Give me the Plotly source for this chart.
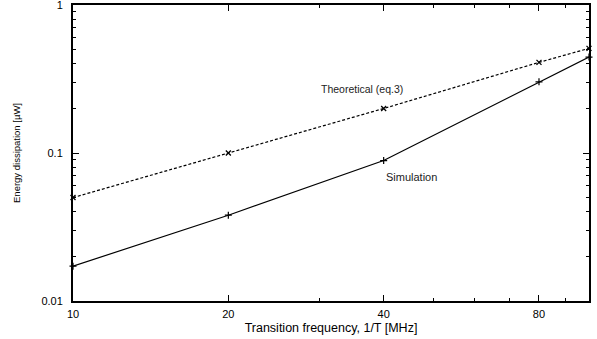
import math
import plotly.graph_objects as go

freq = [10, 20, 40, 80, 100]
theoretical = [0.05, 0.10, 0.20, 0.41, 0.51]
simulation = [0.0172, 0.038, 0.089, 0.303, 0.445]

x_ticks = [10, 20, 40, 80]
x_tick_labels = ["10", "20", "40", "80"]
x_minor = [30, 50, 60, 70, 90]
y_ticks = [0.01, 0.1, 1]
y_tick_labels = ["0.01", "0.1", "1"]
y_minor = [v * d for d in (0.01, 0.1) for v in range(2, 10)]

FONT = "Liberation Sans, Arial, sans-serif"

fig = go.Figure()
fig.add_trace(go.Scatter(
    x=freq, y=theoretical, mode="lines+markers",
    line=dict(color="black", width=1.2, dash="3px,2px"),
    marker=dict(symbol="x-thin", size=5, line=dict(color="black", width=1.3)),
    showlegend=False, cliponaxis=False))
fig.add_trace(go.Scatter(
    x=freq, y=simulation, mode="lines+markers",
    line=dict(color="black", width=1.2),
    marker=dict(symbol="cross-thin", size=5, line=dict(color="black", width=1.2)),
    showlegend=False, cliponaxis=False))

axis_common = dict(
    showgrid=False, zeroline=False, showline=True, linecolor="black", linewidth=2,
    mirror="ticks", ticks="inside", ticklen=6, tickwidth=1.3, tickcolor="black",
    tickfont=dict(family=FONT, size=11, color="black"),
    ticklabeloverflow="allow",
)

fig.update_xaxes(
    type="log", range=[1, 2], tickmode="array", tickvals=x_ticks, ticktext=x_tick_labels,
    minor=dict(tickmode="array", tickvals=x_minor, ticks="inside", ticklen=3, tickwidth=1.3,
               tickcolor="black", showgrid=False),
    title=dict(text="Transition frequency, 1/T [MHz]", font=dict(family=FONT, size=12.5, color="black"), standoff=4),
    ticklabelstandoff=2,
    **axis_common)
fig.update_yaxes(
    type="log", range=[-2, 0.0005], tickmode="array", tickvals=y_ticks, ticktext=y_tick_labels,
    minor=dict(tickmode="array", tickvals=y_minor, ticks="inside", ticklen=3, tickwidth=1.3,
               tickcolor="black", showgrid=False),
    title=dict(text="Energy dissipation [µW]", font=dict(family=FONT, size=9.5, color="black"), standoff=19),
    ticklabelstandoff=6,
    **axis_common)

fig.add_annotation(x=math.log10(30.0), y=math.log10(0.27), xref="x", yref="y",
                   text="Theoretical (eq.3)", showarrow=False, xanchor="left", yanchor="middle",
                   font=dict(family=FONT, size=10.5, color="#222"))
fig.add_annotation(x=math.log10(40.0), y=math.log10(0.0689), xref="x", yref="y",
                   text="Simulation", showarrow=False, xanchor="left", yanchor="middle",
                   font=dict(family=FONT, size=11, color="#222"))

fig.update_layout(
    width=597, height=339,
    margin=dict(l=73, r=8, t=5, b=38, autoexpand=False),
    paper_bgcolor="white", plot_bgcolor="white",
    font=dict(family=FONT, color="black"),
)

fig.write_html("out.html")
